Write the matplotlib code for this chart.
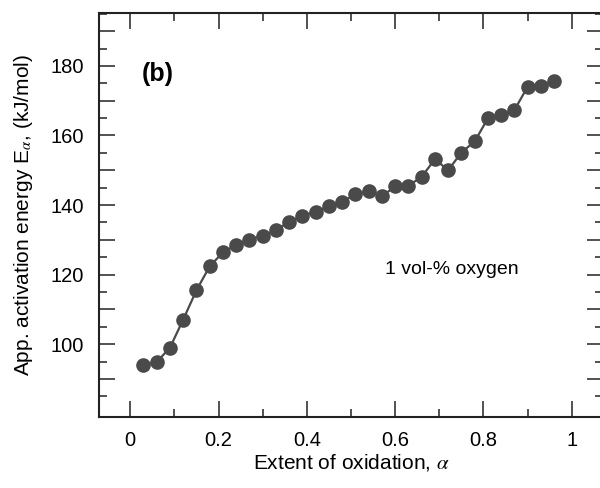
import numpy as np
import matplotlib
matplotlib.use('Agg')
import matplotlib.pyplot as plt
from matplotlib.ticker import MultipleLocator, FixedLocator, FuncFormatter

plt.rcParams['font.family'] = ['Liberation Sans', 'DejaVu Sans']
plt.rcParams['mathtext.fontset'] = 'stix'

# extent of oxidation and apparent activation energy (kJ/mol)
alpha = [0.03, 0.06, 0.09, 0.12, 0.15, 0.18, 0.21, 0.24, 0.27, 0.30, 0.33,
         0.36, 0.39, 0.42, 0.45, 0.48, 0.51, 0.54, 0.57, 0.60, 0.63, 0.66,
         0.69, 0.72, 0.75, 0.78, 0.81, 0.84, 0.87, 0.90, 0.93, 0.96]
energy = [94.0, 94.9, 99.0, 107.1, 115.5, 122.4, 126.4, 128.6, 130.1, 131.2,
          132.8, 135.2, 136.9, 138.1, 139.6, 140.9, 143.1, 144.0, 142.5, 145.4,
          145.6, 148.1, 153.2, 150.0, 155.1, 158.3, 164.9, 165.9, 167.3, 174.0,
          174.2, 175.8]

col = '#4a4a4a'

fig = plt.figure(figsize=(6, 4.88), dpi=100)
ax = fig.add_axes([0.1655, 0.1449, 0.839, 0.8291])

ax.plot(alpha, energy, '-o', color=col, lw=1.6, ms=9.5, mec=col, mfc=col)

ax.set_xlim(-0.07, 1.07)
ax.set_ylim(79, 195.3)

ax.xaxis.set_major_locator(MultipleLocator(0.2))
ax.xaxis.set_minor_locator(MultipleLocator(0.1))
ax.xaxis.set_major_formatter(FuncFormatter(lambda v, p: '%g' % round(v, 2)))
ax.yaxis.set_major_locator(FixedLocator(np.arange(90, 200, 10)))
ax.yaxis.set_minor_locator(FixedLocator(np.arange(85, 200, 10)))
ax.yaxis.set_major_formatter(
    FuncFormatter(lambda v, p: '%d' % v if round(v) % 20 == 0 else ''))

ax.tick_params(which='both', direction='in', top=True, right=True, width=1.1,
               labelsize=14.5, color='#222222')
ax.tick_params(which='major', length=11.5, pad=10)
ax.tick_params(axis='y', which='major', pad=11)
ax.tick_params(which='minor', length=5.8)
for s in ax.spines.values():
    s.set_linewidth(1.5)
    s.set_color('#222222')

ax.set_xlabel(r'Extent of oxidation, $\alpha$', fontsize=15, labelpad=1)
ax.set_ylabel(r'App. activation energy E$_{\alpha}$, (kJ/mol)', fontsize=15, labelpad=11)

ax.text(0.026, 177.7, '(b)', fontsize=18, fontweight='bold', va='center')
ax.text(0.576, 121.6, '1 vol-% oxygen', fontsize=14, va='center')

plt.savefig('out.png', dpi=100)
